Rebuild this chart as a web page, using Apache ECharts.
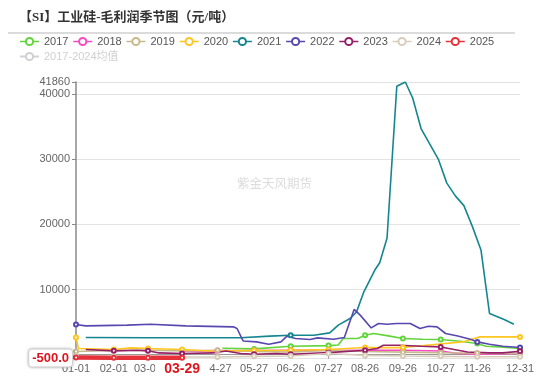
<!DOCTYPE html>
<html>
<head>
<meta charset="utf-8">
<script src="https://cdn.jsdelivr.net/npm/echarts@6/dist/echarts.min.js"></script>
<style>
  html, body { margin: 0; padding: 0; background: #fff; }
  #chart { width: 550px; height: 378px; }
</style>
</head>
<body>
<div id="chart"></div>
<script>
// tick labels shown on the date axis
var labelDates = ['01-01', '02-01', '03-01', '03-29', '04-27', '05-27', '06-26', '07-27', '08-26', '09-26', '10-27', '11-26', '12-31'];
var yTicks = [-500, 10000, 20000, 30000, 40000, 41860];
var yLabels = [10000, 20000, 30000, 40000, 41860];
var legendNames = ['2017', '2018', '2019', '2020', '2021', '2022', '2023', '2024', '2025', '2017-2024均值'];
var colors = ['#62d43c', '#f74bc2', '#c8b98b', '#ffc61f', '#15868f', '#5947b0', '#952068', '#d8ccbb', '#e5323a', '#cccccc'];

// seasonal values, [MM-DD, 元/吨]
var y2017 = [['05-01', 1000], ['05-27', 900], ['06-26', 1300], ['07-27', 1400], ['08-04', 1500], ['08-08', 2490], ['08-20', 2490],
  ['08-26', 3000], ['09-02', 3260], ['09-14', 2900], ['09-26', 2490], ['10-12', 2380], ['10-27', 2340], ['11-12', 2080],
  ['11-26', 1720], ['12-03', 1310], ['12-14', 1200], ['12-31', 950]];
var y2018 = [['03-29', 550], ['04-27', 600], ['05-27', 650], ['06-26', 700], ['07-27', 650], ['08-26', 700], ['09-26', 700],
  ['10-27', 580], ['11-10', 200], ['11-26', 100], ['12-31', 180]];
var y2019 = [['01-01', 500], ['02-01', 650], ['03-01', 690], ['04-01', 600], ['04-27', 690], ['05-27', 500], ['06-26', 400],
  ['07-27', 690], ['08-26', 500], ['09-26', 400], ['10-27', 300], ['11-26', 250], ['12-31', 200]];
var y2020 = [['01-01', 2650], ['01-03', 950], ['02-01', 800], ['02-15', 1050], ['03-01', 950], ['03-29', 800], ['04-20', 580],
  ['05-27', 650], ['06-26', 690], ['07-27', 800], ['08-26', 1100], ['09-26', 1100], ['10-24', 1620], ['11-14', 1970],
  ['11-28', 2740], ['12-31', 2740]];
var y2021 = [['01-09', 2650], ['03-03', 2600], ['04-13', 2600], ['05-16', 2600], ['06-09', 2850], ['06-26', 3000], ['07-15', 3000],
  ['07-28', 3350], ['08-04', 4540], ['08-14', 5600], ['08-19', 6580], ['08-25', 9660], ['09-03', 13000], ['09-07', 14120],
  ['09-13', 17920], ['09-21', 41200], ['09-28', 41860], ['10-04', 39400], ['10-11', 34650], ['10-25', 30030], ['11-01', 26340],
  ['11-08', 24380], ['11-15', 22890], ['11-22', 19660], ['11-29', 16080], ['12-06', 6340], ['12-18', 5420], ['12-26', 4690]];
var y2022 = [['01-01', 4650], ['01-09', 4430], ['02-12', 4540], ['03-03', 4690], ['04-01', 4430], ['05-10', 4280], ['05-13', 4030],
  ['05-18', 2120], ['05-29', 1970], ['06-08', 1620], ['06-18', 1970], ['06-23', 2850], ['06-30', 2490], ['07-12', 2340],
  ['07-18', 2590], ['07-31', 2380], ['08-09', 2650], ['08-17', 6950], ['08-22', 6080], ['08-31', 4120], ['09-06', 4800],
  ['09-13', 4690], ['09-21', 4800], ['10-02', 4800], ['10-10', 4030], ['10-17', 4380], ['10-24', 4280], ['10-31', 3260],
  ['11-10', 2890], ['11-21', 2340], ['11-26', 1970], ['12-06', 1620], ['12-17', 1310], ['12-31', 1110]];
var y2023 = [['01-09', 800], ['02-01', 600], ['02-20', 690], ['03-01', 600], ['03-10', 280], ['03-29', 180], ['04-23', 280],
  ['05-04', 580], ['05-16', 180], ['05-27', 80], ['06-14', 180], ['06-26', 80], ['07-27', 330], ['08-26', 690], ['09-05', 950],
  ['09-10', 1460], ['09-23', 1460], ['10-11', 1310], ['10-27', 1200], ['11-07', 800], ['11-18', 430], ['12-06', 280],
  ['12-17', 280], ['12-31', 540]];
var y2024 = [['01-01', -200], ['02-01', -300], ['03-01', -340], ['04-27', -340], ['05-27', -250], ['06-26', -200], ['07-27', 180],
  ['08-26', -100], ['09-26', -200], ['10-27', -250], ['11-26', -300], ['12-31', -300]];
var y2025 = [['01-01', -430], ['02-01', -450], ['03-01', -460], ['03-29', -450]];
var yAvg = [['01-01', 1500], ['04-01', 1400], ['07-01', 1300], ['09-26', 7000], ['11-01', 4500], ['12-31', 1500]];

var seriesData = [y2017, y2018, y2019, y2020, y2021, y2022, y2023, y2024, y2025, yAvg];

// every day of a non-leap year as category
function pad(n) { return (n < 10 ? '0' : '') + n; }
var categories = [];
for (var d = new Date(2021, 0, 1); d.getFullYear() === 2021; d.setDate(d.getDate() + 1)) {
    categories.push(pad(d.getMonth() + 1) + '-' + pad(d.getDate()));
}
function isLabelDay(index, value) {
    return labelDates.indexOf(value) >= 0;
}

var red = '#e0141e';
var font = '"Liberation Sans", "Noto Sans CJK SC", sans-serif';

var option = {
    animation: false,
    color: colors,
    textStyle: { fontFamily: font },
    title: {
        text: '【SI】工业硅-毛利润季节图（元/吨）',
        left: 19,
        top: 11,
        padding: 0,
        textStyle: {
            fontFamily: '"Liberation Serif", "Noto Sans CJK SC", serif',
            fontSize: 13,
            fontWeight: 'bold',
            color: '#333'
        }
    },
    legend: {
        data: legendNames,
        left: 19,
        top: 36,
        width: 490,
        itemWidth: 19,
        itemHeight: 9,
        itemGap: 4,
        padding: 0,
        inactiveColor: '#d0d0d0',
        selected: { '2017-2024均值': false },
        itemStyle: { borderWidth: 1.2 },
        lineStyle: { width: 1.5 },
        textStyle: { fontSize: 11, color: '#555' }
    },
    graphic: [{
        type: 'line',
        shape: { x1: 8, y1: 33, x2: 515, y2: 33 },
        style: { stroke: '#cfcfcf', lineWidth: 1.5 },
        silent: true
    }, {
        type: 'text',
        left: 237,
        top: 177,
        style: { text: '紫金天风期货', fontSize: 12.5, fill: '#dcdcdc', fontFamily: '"Noto Sans CJK SC", sans-serif' },
        silent: true
    }],
    grid: {
        left: 76,
        right: 30,
        top: 82,
        bottom: 20
    },
    xAxis: {
        type: 'category',
        data: categories,
        boundaryGap: false,
        axisLine: { lineStyle: { color: '#999', width: 1 } },
        axisTick: { interval: isLabelDay, alignWithLabel: true, length: 4, lineStyle: { color: '#999' } },
        axisLabel: { interval: isLabelDay, color: '#666', fontSize: 11, margin: 5 },
        splitLine: { show: false },
        axisPointer: {
            show: true,
            status: 'show',
            value: categories.indexOf('03-29'),
            triggerTooltip: false,
            lineStyle: { opacity: 0 },
            label: {
                show: true,
                backgroundColor: '#fff',
                color: red,
                fontWeight: 'bold',
                fontSize: 14,
                padding: [1, 9, 1, 9],
                margin: 3
            }
        }
    },
    yAxis: {
        type: 'value',
        min: -500,
        max: 41860,
        axisLine: { show: true, lineStyle: { color: '#888', width: 1.5 } },
        axisTick: { show: true, customValues: yTicks, length: 4, lineStyle: { color: '#888' } },
        axisLabel: {
            customValues: yLabels,
            color: '#666',
            fontSize: 11,
            margin: 6,
            formatter: function (v) { return String(v); }
        },
        splitLine: { lineStyle: { color: '#e3e3e3', width: 1.2 } },
        axisPointer: {
            show: true,
            status: 'show',
            value: -500,
            triggerTooltip: false,
            lineStyle: { opacity: 0 },
            label: {
                show: true,
                precision: 1,
                backgroundColor: '#fff',
                color: red,
                fontWeight: 'bold',
                fontSize: 13,
                padding: [2, 3, 2, 3],
                margin: 4,
                borderColor: '#e4e4e4',
                borderWidth: 1,
                shadowBlur: 3,
                shadowColor: 'rgba(0,0,0,0.25)'
            }
        }
    },
    series: legendNames.map(function (name, i) {
        var last = name === '2025';
        return {
            name: name,
            type: 'line',
            data: seriesData[i],
            symbol: 'emptyCircle',
            symbolSize: 4,
            showAllSymbol: 'auto',
            clip: !last,
            itemStyle: { borderWidth: 1 },
            lineStyle: { width: last ? 4.5 : 1.6 }
        };
    })
};

var myChart = echarts.init(document.getElementById('chart'));
myChart.setOption(option);
</script>
</body>
</html>
